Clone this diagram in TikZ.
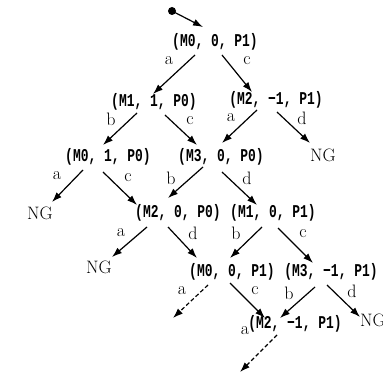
\documentclass[tikz,border=0pt]{standalone}
\usepackage{fontspec}
\usetikzlibrary{arrows.meta,positioning}
\newfontfamily\statefont{Liberation Mono}
\newcommand{\statetext}[1]{\scalebox{0.72}[1]{\statefont\bfseries\fontsize{18}{18}\selectfont #1}}

\begin{document}
\begin{tikzpicture}[x=1pt, y=-1pt, >={Latex[length=10pt,width=7pt]}]
    \tikzstyle{state} = [inner sep=0pt]
    \tikzstyle{ng} = [inner sep=0pt, font=\fontsize{18}{18}\selectfont]
    \tikzstyle{dot} = [circle, fill=black, inner sep=0pt, minimum size=8pt]
    \tikzstyle{edge} = [draw, ->, line width=1.2pt]
    \tikzstyle{open} = [edge, dash pattern=on 4pt off 2.5pt]
    \tikzstyle{lbl} = [inner sep=0pt, font=\fontsize{18}{18}\selectfont]
    \tikzstyle{la} = [lbl, at start, xshift=-26pt, yshift=-6pt]
    \tikzstyle{lc} = [lbl, at start, xshift=25pt, yshift=-6pt]

    \useasboundingbox (0,0) rectangle (383,379);

    % states
    \node [dot] (init) at (172,11) {};
    \node [state] (s0) at (215,42) {\statetext{(M0, 0, P1)}};
    \node [state] (s1) at (154,102) {\statetext{(M1, 1, P0)}};
    \node [state] (s2) at (276,100) {\statetext{(M2, −1, P1)}};
    \node [state] (s3) at (108,157) {\statetext{(M0, 1, P0)}};
    \node [state] (s4) at (221,157) {\statetext{(M3, 0, P0)}};
    \node [ng] (ng1) at (323,155) {NG};
    \node [ng] (ng2) at (40,213) {NG};
    \node [state] (s5) at (178,213) {\statetext{(M2, 0, P0)}};
    \node [state] (s6) at (273,213) {\statetext{(M1, 0, P1)}};
    \node [ng] (ng3) at (99,267) {NG};
    \node [state] (s7) at (232,272) {\statetext{(M0, 0, P1)}};
    \node [state] (s8) at (331,272) {\statetext{(M3, −1, P1)}};
    \node [state] (s9) at (295,324) {\statetext{(M2, −1, P1)}};
    \node [ng] (ng4) at (373,320) {NG};
    \coordinate (open1) at (173,318);
    \coordinate (open2) at (240,372);

    % transitions
    \draw [edge] (init.center) -- ([shift={(-12,-15)}]s0.center);
    \draw [edge] ([shift={(-20,13)}]s0.center) -- node[la] {a} ([shift={(-1,-8)}]s1.center);
    \draw [edge] ([shift={(7,13)}]s0.center) -- node[lc] {c} ([shift={(-24,-8)}]s2.center);
    \draw [edge] ([shift={(-17,11)}]s1.center) -- node[la] {b} ([shift={(-5,-12)}]s3.center);
    \draw [edge] ([shift={(11,13)}]s1.center) -- node[lc] {c} ([shift={(-24,-12)}]s4.center);
    \draw [edge] ([shift={(-19,10)}]s2.center) -- node[la, yshift=-2pt] {a} ([shift={(1,-14)}]s4.center);
    \draw [edge] ([shift={(1,12)}]s2.center) -- node[lc] {d} ([shift={(-13,-12)}]ng1.center);
    \draw [edge] ([shift={(-25,13)}]s3.center) -- node[la] {a} ([shift={(12,-11)}]ng2.center);
    \draw [edge] ([shift={(-5,15)}]s3.center) -- node[lc] {c} ([shift={(-41,-8)}]s5.center);
    \draw [edge] ([shift={(-18,10)}]s4.center) -- node[la, xshift=-6pt, yshift=-5pt] {b} ([shift={(-10,-15)}]s5.center);
    \draw [edge] ([shift={(1,15)}]s4.center) -- node[lc] {d} ([shift={(-16,-8)}]s6.center);
    \draw [edge] ([shift={(-31,14)}]s5.center) -- node[la] {a} ([shift={(13,-10)}]ng3.center);
    \draw [edge] ([shift={(-10,14)}]s5.center) -- node[lc] {d} ([shift={(-35,-14)}]s7.center);
    \draw [edge] ([shift={(-11,14)}]s6.center) -- node[la] {b} ([shift={(-2,-14)}]s7.center);
    \draw [edge] ([shift={(5,15)}]s6.center) -- node[lc] {c} ([shift={(-18,-9)}]s8.center);
    \draw [open] ([shift={(-24,13)}]s7.center) -- node[la] {a} (open1);
    \draw [edge] ([shift={(-2,11)}]s7.center) -- node[lc, yshift=-2pt] {c} ([shift={(-30,-6)}]s9.center);
    \draw [edge] ([shift={(-16,15)}]s8.center) -- node[la] {b} ([shift={(-15,-6)}]s9.center);
    \draw [edge] ([shift={(-4,13)}]s8.center) -- node[lc] {d} ([shift={(-13,-3)}]ng4.center);
    \draw [open] ([shift={(-18,11)}]s9.center) -- node[la, xshift=-6pt, yshift=10pt] {a} (open2);
\end{tikzpicture}
\end{document}
